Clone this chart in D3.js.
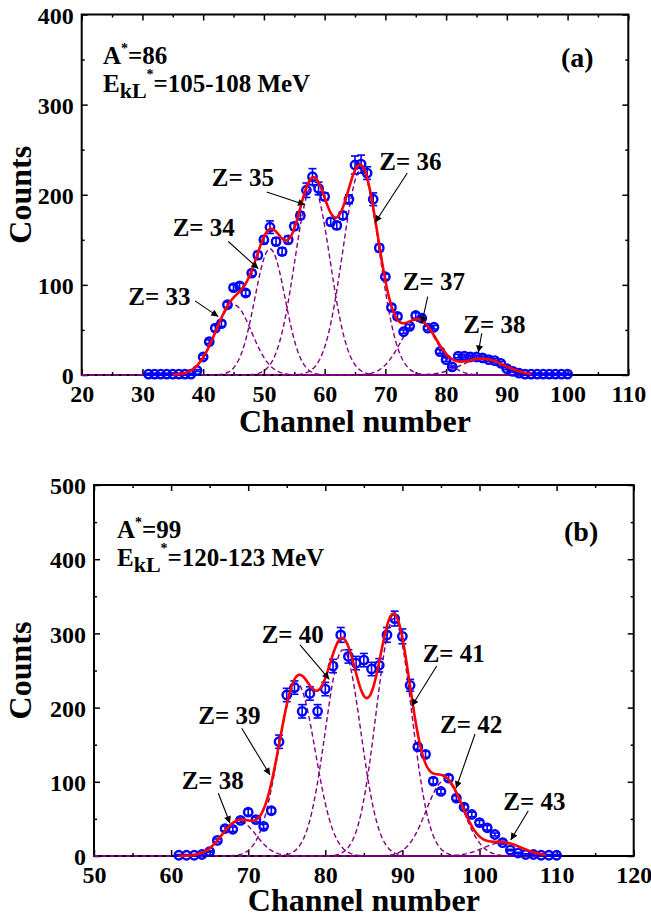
<!DOCTYPE html>
<html><head><meta charset="utf-8">
<script src="https://cdn.jsdelivr.net/npm/d3@7"></script>
<style>
body{margin:0;background:#fff}
svg text{font-family:"Liberation Serif","Times New Roman",serif;font-weight:bold;fill:#000}
</style>
</head><body>
<svg id="c" width="651" height="920"></svg>
<script>
// ---------------- DATA : panel (a) ----------------
const channelsA = [31,32,33,34,35,36,37,38,39,40,41,42,43,44,45,46,47,48,49,50,51,52,53,54,55,56,57,58,59,60,61,62,63,64,65,66,67,68,69,70,71,72,73,74,75,76,77,78,79,80,81,82,83,84,85,86,87,88,89,90,91,92,93,94,95,96,97,98,99,100];
const countsA   = [1,1,1,1,1,1,1,1,5,20,37,52,57,78,97,99,91,113,133,150,164,148,137,150,165,177,205,220,207,198,170,166,177,195,233,234,224,195,141,109,75,65,48,54,66,63,52,53,26,17,9,21,21,20,20,19,17,16,13,7,4,2,1,1,1,1,1,1,1,1];
const errorsA   = [1,1,1,1,1,1,1,1,1,2,2,3,3,3,3,3,3,3,4,4,7,4,4,4,4,4,8,9,7,4,4,4,4,5,10,10,7,7,4,3,3,3,2,2,3,3,2,2,2,2,1,2,2,2,2,2,2,2,2,1,1,1,1,1,1,1,1,1,1,1];
const zA        = [33,34,35,36,37,38];
const centersA  = [45,51,58,66,75.5,86];
const ampsA     = [78,140,210,228,60,18];
const sigmasA   = [3.0,2.5,2.9,3.0,3.0,3.5];
const xTicksA   = [20,30,40,50,60,70,80,90,100,110];
const yTicksA   = [0,100,200,300,400];

// ---------------- DATA : panel (b) ----------------
const channelsB = [61,62,63,64,65,66,67,68,69,70,71,72,73,74,75,76,77,78,79,80,81,82,83,84,85,86,87,88,89,90,91,92,93,94,95,96,97,98,99,100,101,102,103,104,105,106,107,108,109,110];
const countsB   = [1,1,1,2,6,21,37,36,48,59,49,40,61,154,217,227,195,219,195,225,256,298,269,260,264,252,257,298,320,296,230,147,137,101,87,105,78,66,56,45,38,29,18,8,4,2,2,1,1,1];
const errorsB   = [1,1,1,1,1,2,3,3,3,4,3,3,4,9,9,9,9,9,9,9,9,10,9,9,9,9,9,10,10,10,8,4,4,4,3,4,3,3,3,3,3,2,2,1,1,1,1,1,1,1];
const zB        = [38,39,40,41,42,43];
const centersB  = [68.8,76.3,82.3,88.9,95.5,103];
const ampsB     = [47,233,278,320,102,18];
const sigmasB   = [2.2,2.4,2.3,2.3,2.4,2.5];
const xTicksB   = [50,60,70,80,90,100,110,120];
const yTicksB   = [0,100,200,300,400,500];

// ---------------- LAYOUT ----------------
const svg = d3.select('#c');
const defs = svg.append('defs');
defs.append('marker').attr('id','arr').attr('viewBox','0 0 10 10')
  .attr('refX',10).attr('refY',5).attr('markerWidth',9).attr('markerHeight',7)
  .attr('markerUnits','userSpaceOnUse').attr('orient','auto')
  .append('path').attr('d','M0,0 L10,5 L0,10 z').attr('fill','#000');

const panels = [
  {channels:channelsA, counts:countsA, errors:errorsA, z:zA, centers:centersA, amps:ampsA, sigmas:sigmasA,
   xTicks:xTicksA, yTicks:yTicksA, xDom:[20,110], yDom:[0,400],
   left:81.7, right:628.3, top:14.5, bottom:375, titleOff:57,
   fitRange:[35,94], compRange:[20,100],
   labels:[[27.67,77.8],[34.98,153.7],[41.41,209.2],[69.0,227.8],[72.86,94.4],[82.84,47]],
   arrows:[[[38.66,82.2],[42.49,64.8]],[[44.14,148.1],[49.08,118]],[[50.46,203],[56.77,188.9]],
           [[73.61,224.1],[68.3,169.2]],[[76.97,87],[75.99,57]],[[85.87,46.3],[85.31,25]]],
   A:'86', E:'105-108 MeV', tag:'(a)', annX:103, annY1:64, annY2:92, tagX:561, tagY:67},
  {channels:channelsB, counts:countsB, errors:errorsB, z:zB, centers:centersB, amps:ampsB, sigmas:sigmasB,
   xTicks:xTicksB, yTicks:yTicksB, xDom:[50,120], yDom:[0,500],
   left:94, right:633.7, top:485, bottom:856, titleOff:55,
   fitRange:[61,108.6], compRange:[50,109],
   labels:[[61.37,89.9],[63.53,177.9],[71.75,287.5],[92.63,261.9],[94.88,165.4],[103.09,62]],
   arrows:[[[66.12,84.5],[67.64,44.1]],[[69.16,172.1],[72.83,109.2]],[[76.72,284.4],[80.52,238.1]],
           [[94.45,256.1],[91.21,202.2]],[[99.42,164.4],[96.95,91.2]],[[106.33,61],[104.05,21.6]]],
   A:'99', E:'120-123 MeV', tag:'(b)', annX:117, annY1:538, annY2:566, tagX:564, tagY:541}
];

function gauss(a,c,s,t){ return a*Math.exp(-((t-c)*(t-c))/(2*s*s)); }

panels.forEach(p => {
  const x = d3.scaleLinear().domain(p.xDom).range([p.left,p.right]);
  const y = d3.scaleLinear().domain(p.yDom).range([p.bottom,p.top]);
  const g = svg.append('g');

  g.append('rect').attr('x',p.left).attr('y',p.top).attr('width',p.right-p.left).attr('height',p.bottom-p.top)
    .attr('fill','none').attr('stroke','#000').attr('stroke-width',2);

  const xMinor = d3.range(p.xDom[0], p.xDom[1]+0.01, 5).filter(v => v % 10 !== 0);
  const yMinor = d3.range(p.yDom[0], p.yDom[1]+0.01, 50).filter(v => v % 100 !== 0);

  const axB = g.append('g').attr('transform',`translate(0,${p.bottom})`)
    .call(d3.axisBottom(x).tickValues(p.xTicks).tickSize(-6).tickFormat(d3.format('d')));
  axB.selectAll('text').attr('y',26.5).attr('dy',0).style('font-size','24px');
  g.append('g').attr('transform',`translate(0,${p.bottom})`)
    .call(d3.axisBottom(x).tickValues(xMinor).tickSize(-3).tickFormat(''));
  g.append('g').attr('transform',`translate(0,${p.top})`)
    .call(d3.axisTop(x).tickValues(p.xTicks).tickSize(-6).tickFormat(''));
  g.append('g').attr('transform',`translate(0,${p.top})`)
    .call(d3.axisTop(x).tickValues(xMinor).tickSize(-3).tickFormat(''));

  const axL = g.append('g').attr('transform',`translate(${p.left},0)`)
    .call(d3.axisLeft(y).tickValues(p.yTicks).tickSize(-6).tickFormat(d3.format('d')));
  axL.selectAll('text').attr('x',-8).attr('dy','0.36em').style('font-size','24px');
  g.append('g').attr('transform',`translate(${p.left},0)`)
    .call(d3.axisLeft(y).tickValues(yMinor).tickSize(-3).tickFormat(''));
  g.append('g').attr('transform',`translate(${p.right},0)`)
    .call(d3.axisRight(y).tickValues(p.yTicks).tickSize(-6).tickFormat(''));
  g.append('g').attr('transform',`translate(${p.right},0)`)
    .call(d3.axisRight(y).tickValues(yMinor).tickSize(-3).tickFormat(''));
  g.selectAll('.domain').remove();
  g.selectAll('.tick line').attr('stroke','#000').attr('stroke-width',1.5);

  // Gaussian components (dashed)
  const ts = d3.range(p.compRange[0], p.compRange[1]+0.001, 0.2);
  p.centers.forEach((c,i) => {
    g.append('path').datum(ts)
      .attr('d', d3.line().x(t => x(t)).y(t => y(gauss(p.amps[i],c,p.sigmas[i],t))))
      .attr('fill','none').attr('stroke','#800080').attr('stroke-width',1.4).attr('stroke-dasharray','5,3');
  });

  // error bars
  const eb = g.append('g').attr('stroke','#0000ff').attr('stroke-width',1.6);
  p.channels.forEach((ch,i) => {
    const cx = x(ch), y1 = y(p.counts[i]+p.errors[i]), y2 = y(Math.max(0,p.counts[i]-p.errors[i]));
    eb.append('line').attr('x1',cx).attr('x2',cx).attr('y1',y1).attr('y2',y2);
    eb.append('line').attr('x1',cx-4).attr('x2',cx+4).attr('y1',y1).attr('y2',y1);
    eb.append('line').attr('x1',cx-4).attr('x2',cx+4).attr('y1',y2).attr('y2',y2);
  });
  // data points
  g.append('g').selectAll('circle').data(p.counts).join('circle')
    .attr('cx',(d,i) => x(p.channels[i])).attr('cy',d => y(d)).attr('r',4.2)
    .attr('fill','none').attr('stroke','#0000ff').attr('stroke-width',2.4);

  // total fit (red)
  const tf = d3.range(p.fitRange[0], p.fitRange[1]+0.001, 0.1);
  g.append('path').datum(tf)
    .attr('d', d3.line().x(t => x(t)).y(t => y(d3.sum(p.centers,(c,i) => gauss(p.amps[i],c,p.sigmas[i],t)))))
    .attr('fill','none').attr('stroke','#ff0000').attr('stroke-width',2.6);

  // Z labels and arrows
  p.z.forEach((z,i) => {
    g.append('text').attr('x',x(p.labels[i][0])).attr('y',y(p.labels[i][1]))
      .style('font-size','25px').text('Z= ' + z);
    const a = p.arrows[i];
    g.append('line').attr('x1',x(a[0][0])).attr('y1',y(a[0][1])).attr('x2',x(a[1][0])).attr('y2',y(a[1][1]))
      .attr('stroke','#000').attr('stroke-width',1.1).attr('marker-end','url(#arr)');
  });

  // annotations
  const t1 = g.append('text').attr('x',p.annX).attr('y',p.annY1).style('font-size','25px');
  t1.append('tspan').text('A');
  t1.append('tspan').attr('dy',-11).style('font-size','14px').text('*');
  t1.append('tspan').attr('dy',11).text('=' + p.A);
  const t2 = g.append('text').attr('x',p.annX).attr('y',p.annY2).style('font-size','25px');
  t2.append('tspan').text('E');
  t2.append('tspan').attr('dy',6).style('font-size','22px').text('kL');
  t2.append('tspan').attr('dy',-19).style('font-size','14px').text('*');
  t2.append('tspan').attr('dy',13).text('=' + p.E);
  g.append('text').attr('x',p.tagX).attr('y',p.tagY).style('font-size','28px').text(p.tag);

  // axis titles
  g.append('text').attr('x',(p.left+p.right)/2).attr('y',p.bottom+p.titleOff).attr('text-anchor','middle')
    .style('font-size','32px').text('Channel number');
  g.append('text').attr('transform',`translate(31,${(p.top+p.bottom)/2}) rotate(-90)`)
    .attr('text-anchor','middle').style('font-size','32px').text('Counts');
});
</script>
</body></html>
